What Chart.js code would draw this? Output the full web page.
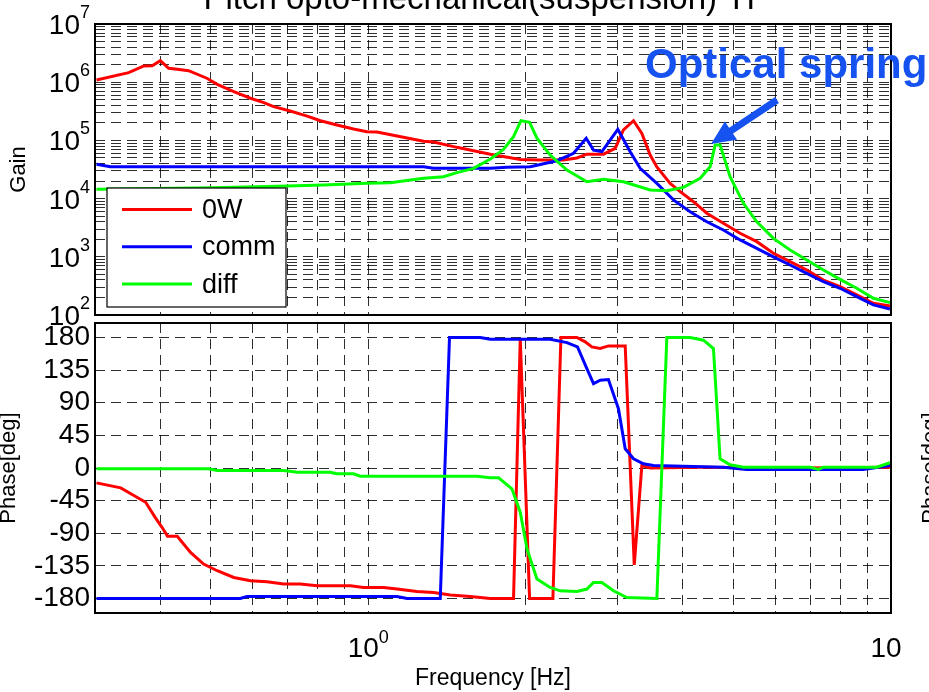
<!DOCTYPE html>
<html><head><meta charset="utf-8">
<script src="https://cdn.jsdelivr.net/npm/chart.js@4.4.1/dist/chart.umd.min.js"></script>
<style>
html,body{margin:0;padding:0;background:#fff;}
#wrap{position:relative;width:929px;height:692px;overflow:hidden;background:#fff;}
#wrap canvas{position:absolute;left:0;top:0;}
</style></head><body>
<div id="wrap"><canvas id="gain" width="929" height="692"></canvas><canvas id="phase" width="929" height="692"></canvas></div>
<script>
// ---------- data ----------
const seriesNames = ['0W', 'comm', 'diff'];
const seriesColors = ['#ff0000', '#0000ff', '#00ff00'];

const gainFreq0W = [0.302,0.348,0.372,0.386,0.400,0.415,0.431,0.453,0.491,0.514,0.553,0.595,0.631,0.659,0.709,0.764,0.810,0.871,0.937,0.994,1.039,1.135,1.276,1.333,1.477,1.712,1.953,2.133,2.363,2.506,2.619,2.818,2.967,3.077,3.217,3.337,3.461,3.565,3.780,3.951,4.188,4.442,4.778,5.144,5.537,5.957,6.411,6.900,7.424,7.989,8.600,9.252,9.956];
const gain0W = [1.09e6,1.46e6,1.90e6,1.92e6,2.34e6,1.73e6,1.67e6,1.58e6,1.17e6,9.2e5,6.9e5,5.3e5,4.45e5,3.8e5,3.2e5,2.62e5,2.18e5,1.84e5,1.57e5,1.41e5,1.39e5,1.19e5,9.7e4,9.4e4,7.6e4,5.8e4,4.7e4,4.6e4,4.6e4,5.0e4,5.8e4,5.8e4,7.3e4,1.51e5,2.18e5,1.32e5,5.6e4,3.5e4,1.83e4,1.32e4,8.85e3,5.6e3,3.77e3,2.54e3,1.82e3,1.15e3,824,593,399,306,221,159,143];

const gainFreqComm = [0.302,0.321,0.612,1.276,1.333,1.712,1.842,2.041,2.296,2.470,2.611,2.697,2.798,3.002,3.170,3.312,3.565,3.835,4.128,4.442,4.778,5.144,5.537,5.957,6.411,6.900,7.424,7.989,8.600,9.252,9.956];
const gainComm = [3.88e4,3.53e4,3.53e4,3.53e4,3.31e4,3.31e4,3.45e4,3.53e4,4.48e4,6.0e4,1.09e5,6.8e4,6.4e4,1.55e5,6.4e4,3.31e4,1.83e4,9.5e3,5.96e3,4.0e3,2.89e3,1.95e3,1.40e3,1.0e3,723,520,373,288,207,149,127];

const gainFreqDiff = [0.302,0.505,0.699,0.821,0.994,1.102,1.276,1.393,1.477,1.590,1.712,1.814,1.896,1.959,2.035,2.102,2.228,2.399,2.619,2.818,3.077,3.461,3.725,4.008,4.314,4.508,4.608,4.710,4.922,5.220,5.537,5.957,6.411,6.900,7.424,7.989,8.600,9.252,9.956];
const gainDiff = [1.45e4,1.54e4,1.65e4,1.71e4,1.83e4,1.87e4,2.23e4,2.38e4,2.79e4,3.31e4,4.8e4,7.0e4,1.16e5,2.18e5,2.04e5,1.09e5,5.6e4,3.1e4,1.95e4,2.14e4,1.95e4,1.41e4,1.37e4,1.56e4,2.23e4,3.53e4,8.3e4,8.3e4,2.38e4,8.3e3,4.0e3,2.07e3,1.31e3,881,593,410,288,194,163];

const phaseFreq0W = [0.302,0.336,0.356,0.375,0.391,0.403,0.413,0.431,0.457,0.484,0.514,0.553,0.595,0.640,0.689,0.741,0.798,0.924,0.979,1.070,1.135,1.239,1.333,1.435,1.567,1.712,1.896,1.953,2.035,2.255,2.336,2.506,2.600,2.677,2.778,2.880,3.101,3.227,3.337,3.461,4.314,6.699,9.956];
const phase0W = [-20.5,-27.4,-38,-47.3,-68,-81.8,-94.3,-94.3,-116.4,-132.5,-141.7,-151,-155.5,-157,-160,-160,-162.4,-162.4,-164.8,-164.8,-167,-170.3,-171.7,-175.3,-177.2,-180,-180,178.6,-180,-180,180,180,174,167,164.8,168.4,168.4,-133.8,3.5,0,1,0,1];

const phaseFreqComm = [0.302,0.569,0.586,1.135,1.186,1.373,1.430,1.637,1.712,2.228,2.399,2.513,2.619,2.697,2.778,2.880,3.010,3.101,3.217,3.360,3.512,4.778,5.299,8.851,9.956];
const phaseComm = [-180,-180,-177.2,-177.2,-180,-180,180,180,177.6,177.6,173,167,137,116.4,121,121.9,81.8,26.5,12.7,5.8,3.5,1.1,-2,-2,3.5];

const phaseFreqDiff = [0.302,0.495,0.514,0.689,0.731,0.846,0.871,0.937,0.965,1.614,1.712,1.775,1.883,1.953,2.012,2.102,2.228,2.329,2.506,2.619,2.697,2.798,2.944,3.124,3.565,3.725,4.128,4.377,4.574,4.710,4.922,5.220,7.000,7.261,7.424,9.389,9.956];
const phaseDiff = [-1,-1,-3.5,-3.5,-5.8,-5.8,-8,-8,-11.3,-11.3,-13.6,-13.6,-28.8,-61,-111.7,-153,-164.8,-169.4,-170.3,-167,-157.9,-157.9,-169.4,-178.6,-180,180,180,176.3,164.8,12.7,4.4,1.1,1.1,-2,1.1,1.1,7.2];

// ---------- ticks / labels ----------
const gainMajorTicks = [1e2, 1e3, 1e4, 1e5, 1e6, 1e7];
const gainTickExps = ['2', '3', '4', '5', '6', '7'];
const phaseTicks = [-180, -135, -90, -45, 0, 45, 90, 135, 180];
const freqGridTicks = [0.4, 0.5, 0.6, 0.7, 0.8, 0.9, 1, 2, 3, 4, 5, 6, 7, 8, 9];
const freqLabelTicks = [1, 10];
const freqLabelExps = ['0', ''];
const titleText = 'Pitch opto-mechanical(suspension) TF';
const annotationText = 'Optical spring';

// ---------- helpers ----------
const FONT = '"Liberation Sans", Arial, Helvetica, sans-serif';
const pts = (xs, ys) => xs.map((x, i) => ({x: x, y: ys[i]}));
const gainGridValues = [];
gainMajorTicks.forEach((d, i) => {
  if (i < gainMajorTicks.length - 1) { for (let m = 1; m <= 9; m++) gainGridValues.push(m * d); }
  else gainGridValues.push(d);
});
const gridOpts = {color: 'rgba(0,0,0,0.82)', lineWidth: 1, drawTicks: false};
const borderOpts = {display: false, dash: [10, 6]};

const framePlugin = {
  id: 'frame',
  afterDraw(chart) {
    const a = chart.chartArea, ctx = chart.ctx;
    ctx.save();
    ctx.strokeStyle = '#000'; ctx.lineWidth = 2;
    ctx.strokeRect(a.left, a.top, a.right - a.left, a.bottom - a.top);
    ctx.restore();
  }
};

function powLabel(ctx, xRight, y, exp) {
  ctx.font = '28px ' + FONT;
  ctx.textAlign = 'right'; ctx.textBaseline = 'alphabetic';
  ctx.fillText('10', xRight, y + 10);
  ctx.font = '18px ' + FONT; ctx.textAlign = 'left';
  ctx.fillText(exp, xRight, y - 6);
}

const gainDecorPlugin = {
  id: 'gainDecor',
  afterDraw(chart) {
    const ctx = chart.ctx, ys = chart.scales.y;
    ctx.save();
    ctx.fillStyle = '#000';
    gainMajorTicks.forEach((v, i) => powLabel(ctx, 80, ys.getPixelForValue(v), gainTickExps[i]));
    // title (cut at the top like the reference)
    ctx.font = '33px ' + FONT; ctx.textAlign = 'center'; ctx.textBaseline = 'alphabetic';
    ctx.fillText(titleText, 485, 9);
    // legend
    const lx = 107, ly = 188, lw = 179, lh = 119;
    ctx.fillStyle = '#fff'; ctx.fillRect(lx, ly, lw, lh);
    ctx.strokeStyle = '#000'; ctx.lineWidth = 1.2; ctx.strokeRect(lx, ly, lw, lh);
    chart.data.datasets.forEach((ds, i) => {
      const y = 209.5 + i * 37.3;
      ctx.strokeStyle = ds.borderColor; ctx.lineWidth = 3;
      ctx.beginPath(); ctx.moveTo(122, y); ctx.lineTo(192, y); ctx.stroke();
      ctx.fillStyle = '#000'; ctx.font = '27px ' + FONT;
      ctx.textAlign = 'left'; ctx.textBaseline = 'middle';
      ctx.fillText(ds.label, 202, y + 1);
    });
    // annotation
    const col = 'rgb(22,82,240)';
    ctx.fillStyle = col; ctx.strokeStyle = col;
    ctx.font = 'bold 42px ' + FONT; ctx.textAlign = 'left'; ctx.textBaseline = 'alphabetic';
    ctx.fillText(annotationText, 645, 78);
    const tail = {x: 777, y: 100}, tip = {x: 711, y: 144};
    const dx = tip.x - tail.x, dy = tip.y - tail.y, len = Math.hypot(dx, dy);
    const ux = dx / len, uy = dy / len, nx = -uy, ny = ux;
    const hl = 24, hw = 11;
    const bx = tip.x - ux * hl, by = tip.y - uy * hl;
    ctx.lineWidth = 7; ctx.lineCap = 'butt';
    ctx.beginPath(); ctx.moveTo(tail.x, tail.y); ctx.lineTo(bx + ux * 2, by + uy * 2); ctx.stroke();
    ctx.beginPath(); ctx.moveTo(tip.x, tip.y);
    ctx.lineTo(bx + nx * hw, by + ny * hw); ctx.lineTo(bx - nx * hw, by - ny * hw); ctx.closePath(); ctx.fill();
    ctx.restore();
  }
};

const phaseDecorPlugin = {
  id: 'phaseDecor',
  afterDraw(chart) {
    const ctx = chart.ctx, xs = chart.scales.x;
    ctx.save();
    ctx.fillStyle = '#000';
    freqLabelTicks.forEach((v, i) => {
      const x = xs.getPixelForValue(v);
      ctx.font = '28px ' + FONT; const wb = ctx.measureText('10').width;
      ctx.font = '18px ' + FONT; const we = ctx.measureText(freqLabelExps[i] || '1').width;
      const start = x - (wb + we) / 2;
      ctx.textAlign = 'left'; ctx.textBaseline = 'alphabetic';
      ctx.font = '28px ' + FONT; ctx.fillText('10', start, 657);
      ctx.font = '18px ' + FONT; ctx.fillText(freqLabelExps[i], start + wb, 643);
    });
    // cut-off label of a neighbouring axes on the right
    ctx.translate(931, 468); ctx.rotate(-Math.PI / 2);
    ctx.font = '22px ' + FONT; ctx.textAlign = 'center'; ctx.textBaseline = 'middle';
    ctx.fillText('Phase[deg]', 0, 0);
    ctx.restore();
  }
};

const lineDs = (label, color, data, order) => ({label, data, borderColor: color, backgroundColor: color, borderWidth: 3, pointRadius: 0, fill: false, tension: 0, order});

// ---------- gain chart ----------
new Chart(document.getElementById('gain'), {
  type: 'line',
  data: {datasets: [
    lineDs(seriesNames[0], seriesColors[0], pts(gainFreq0W, gain0W), 3),
    lineDs(seriesNames[1], seriesColors[1], pts(gainFreqComm, gainComm), 2),
    lineDs(seriesNames[2], seriesColors[2], pts(gainFreqDiff, gainDiff), 1)
  ]},
  options: {
    responsive: false, animation: false, devicePixelRatio: 1,
    layout: {padding: {left: 0, top: 24, right: 38, bottom: 377}},
    plugins: {legend: {display: false}, tooltip: {enabled: false}},
    scales: {
      x: {type: 'logarithmic', min: 0.3, max: 10, grid: gridOpts, border: borderOpts,
          ticks: {display: false, autoSkip: false},
          afterBuildTicks: s => { s.ticks = freqGridTicks.map(v => ({value: v})); },
          afterFit: s => { s.height = 0; }},
      y: {type: 'logarithmic', min: 1e2, max: 1e7, grid: gridOpts, border: borderOpts,
          ticks: {display: false, autoSkip: false},
          title: {display: true, text: 'Gain', color: '#000', font: {family: FONT, size: 22, lineHeight: 1}, padding: {top: 8, bottom: 0}},
          afterBuildTicks: s => { s.ticks = gainGridValues.map(v => ({value: v})); },
          afterFit: s => { s.width = 95; }}
    }
  },
  plugins: [framePlugin, gainDecorPlugin]
});

// ---------- phase chart ----------
new Chart(document.getElementById('phase'), {
  type: 'line',
  data: {datasets: [
    lineDs(seriesNames[0], seriesColors[0], pts(phaseFreq0W, phase0W), 3),
    lineDs(seriesNames[1], seriesColors[1], pts(phaseFreqComm, phaseComm), 2),
    lineDs(seriesNames[2], seriesColors[2], pts(phaseFreqDiff, phaseDiff), 1)
  ]},
  options: {
    responsive: false, animation: false, devicePixelRatio: 1,
    layout: {padding: {left: 0, top: 323, right: 38, bottom: 0}},
    plugins: {legend: {display: false}, tooltip: {enabled: false}},
    scales: {
      x: {type: 'logarithmic', min: 0.3, max: 10, grid: gridOpts, border: borderOpts,
          ticks: {display: false, autoSkip: false},
          title: {display: true, text: 'Frequency [Hz]', color: '#000', font: {family: FONT, size: 23}, padding: {top: 0, bottom: 0}},
          afterBuildTicks: s => { s.ticks = freqGridTicks.map(v => ({value: v})); },
          afterFit: s => { s.height = 79; }},
      y: {type: 'linear', min: -200, max: 200, grid: gridOpts, border: borderOpts,
          ticks: {color: '#000', font: {family: FONT, size: 28}, padding: 5, autoSkip: false},
          title: {display: true, text: 'Phase[deg]', color: '#000', font: {family: FONT, size: 22, lineHeight: 1}, padding: {top: -2, bottom: 0}},
          afterBuildTicks: s => { s.ticks = phaseTicks.map(v => ({value: v})); },
          afterFit: s => { s.width = 95; }}
    }
  },
  plugins: [framePlugin, phaseDecorPlugin]
});
</script>
</body></html>
